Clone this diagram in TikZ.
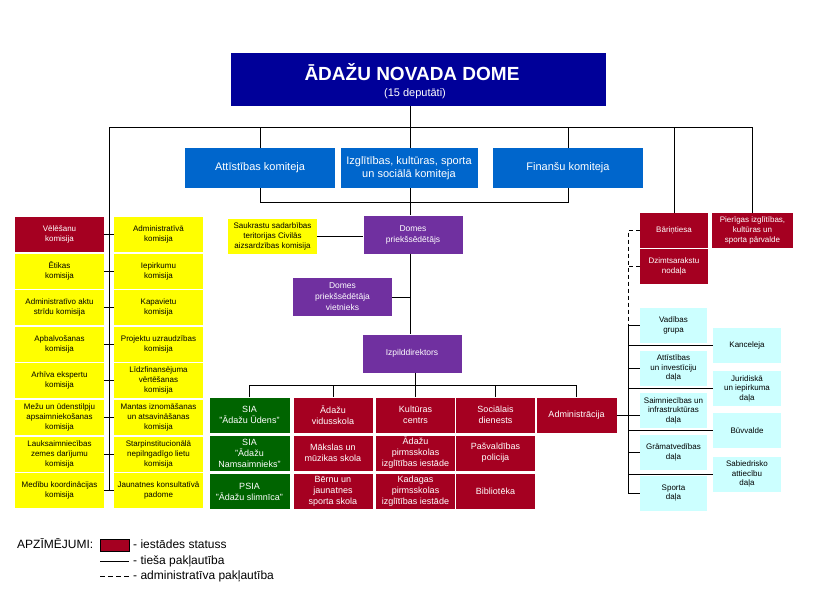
\documentclass[tikz,border=0pt]{standalone}
\usepackage{fontspec}
\setmainfont{Liberation Sans}
\usetikzlibrary{positioning}
\definecolor{domeblue}{RGB}{0,0,153}
\definecolor{komblue}{RGB}{0,102,204}
\definecolor{vadviolet}{RGB}{112,48,160}
\definecolor{iestred}{RGB}{165,0,33}
\definecolor{kapgreen}{RGB}{0,100,0}
\definecolor{komyellow}{RGB}{255,255,0}
\definecolor{dalcyan}{RGB}{204,255,255}

\begin{document}
\begin{tikzpicture}[x=1pt, y=-1pt,
  every node/.style={inner sep=0pt, align=center},
  domebox/.style={fill=domeblue, minimum width=375pt, minimum height=53pt},
  komitejabox/.style={fill=komblue, text=white, minimum height=40pt, font=\fontsize{11}{13}\selectfont},
  vadbox/.style={fill=vadviolet, text=white, minimum width=99pt, minimum height=38pt, font=\fontsize{8.5}{11}\selectfont},
  iestbox/.style={fill=iestred, text=white, minimum width=79pt, minimum height=35pt, font=\fontsize{9}{11}\selectfont},
  kapbox/.style={fill=kapgreen, text=white, minimum width=80pt, minimum height=35pt, font=\fontsize{9}{11}\selectfont},
  kombox/.style={fill=komyellow, minimum width=89pt, minimum height=35pt, font=\fontsize{8}{10}\selectfont},
  dalbox/.style={fill=dalcyan, minimum width=67pt, minimum height=35pt, font=\fontsize{8}{9.5}\selectfont},
  saite/.style={line width=0.9pt},
  legtext/.style={anchor=west, font=\fontsize{12}{14}\selectfont}]
\useasboundingbox (0,0) rectangle (814,595);

\node[domebox] (dome) at (418.5,79.5) {};
\node[text=white, font=\fontsize{19}{22}\selectfont\bfseries] (dometitle) at (412,72) {ĀDAŽU NOVADA DOME};
\node[text=white, font=\fontsize{11}{13}\selectfont] (domesub) at (415,94) {(15 deputāti)};

\node[komitejabox, minimum width=150pt] (atti) at (260,168) {Attīstības komiteja};
\node[komitejabox, minimum width=137pt] (izgl) at (409,168) {Izglītības, kultūras, sporta\\un sociālā komiteja};
\node[komitejabox, minimum width=150pt] (fin) at (568,168) {Finanšu komiteja};

\node[kombox] (sauk) at (272.5,236) {Saukrastu sadarbības\\teritorijas Civilās\\aizsardzības komisija};
\node[vadbox] (priek) at (413,234.5) {Domes\\priekšsēdētājs};
\node[vadbox] (viet) at (342.5,297) {Domes\\priekšsēdētāja\\vietnieks};
\node[vadbox] (izp) at (412,353.5) {Izpilddirektors};

\node[kombox, fill=iestred, text=white] (lk1) at (59.5,234) {Vēlēšanu\\komisija};
\node[kombox] (lk2) at (59.5,271) {Ētikas\\komisija};
\node[kombox] (lk3) at (59.5,307) {Administratīvo aktu\\strīdu komisija};
\node[kombox] (lk4) at (59.5,344) {Apbalvošanas\\komisija};
\node[kombox] (lk5) at (59.5,380) {Arhīva ekspertu\\komisija};
\node[kombox] (lk6) at (59.5,417) {Mežu un ūdenstilpju\\apsaimniekošanas\\komisija};
\node[kombox] (lk7) at (59.5,454) {Lauksaimniecības\\zemes darījumu\\komisija};
\node[kombox] (lk8) at (59.5,490) {Medību koordinācijas\\komisija};
\node[kombox] (rk1) at (158.5,234) {Administratīvā\\komisija};
\node[kombox] (rk2) at (158.5,271) {Iepirkumu\\komisija};
\node[kombox] (rk3) at (158.5,307) {Kapavietu\\komisija};
\node[kombox] (rk4) at (158.5,344) {Projektu uzraudzības\\komisija};
\node[kombox] (rk5) at (158.5,380) {Līdzfinansējuma\\vērtēšanas\\komisija};
\node[kombox] (rk6) at (158.5,417) {Mantas iznomāšanas\\un atsavināšanas\\komisija};
\node[kombox] (rk7) at (158.5,454) {Starpinstitucionālā\\nepilngadīgo lietu\\komisija};
\node[kombox] (rk8) at (158.5,490) {Jaunatnes konsultatīvā\\padome};

\node[kapbox] (udens) at (249.5,415) {SIA\\"Ādažu Ūdens"};
\node[kapbox] (nams) at (249.5,453) {SIA\\"Ādažu\\Namsaimnieks"};
\node[kapbox] (slim) at (249.5,491.5) {PSIA\\"Ādažu slimnīca"};
\node[iestbox] (vid) at (333,415) {Ādažu\\vidusskola};
\node[iestbox] (kult) at (415.5,415) {Kultūras\\centrs};
\node[iestbox] (soc) at (495.5,415) {Sociālais\\dienests};
\node[iestbox, minimum width=80pt] (adm) at (576.5,415) {Administrācija};
\node[iestbox] (maks) at (333,453) {Mākslas un\\mūzikas skola};
\node[iestbox] (apii) at (415.5,453) {Ādažu\\pirmsskolas\\izglītības iestāde};
\node[iestbox] (pol) at (495.5,453) {Pašvaldības\\policija};
\node[iestbox] (bjss) at (333,491.5) {Bērnu un\\jaunatnes\\sporta skola};
\node[iestbox] (kpii) at (415.5,491.5) {Kadagas\\pirmsskolas\\izglītības iestāde};
\node[iestbox] (bibl) at (495.5,491.5) {Bibliotēka};

\node[iestbox, minimum width=68pt, font=\fontsize{8}{10}\selectfont] (bar) at (674,230.5) {Bāriņtiesa};
\node[iestbox, minimum width=81pt, font=\fontsize{8}{10}\selectfont] (pier) at (752.5,230.5) {Pierīgas izglītības,\\kultūras un\\sporta pārvalde};
\node[iestbox, minimum width=68pt, font=\fontsize{8}{10}\selectfont] (dzim) at (674,266.5) {Dzimtsarakstu\\nodaļa};

\node[dalbox] (vad) at (673.5,325.5) {Vadības\\grupa};
\node[dalbox] (attd) at (673.5,368) {Attīstības\\un investīciju\\daļa};
\node[dalbox] (saim) at (673.5,410.5) {Saimniecības un\\infrastruktūras\\daļa};
\node[dalbox] (gram) at (673.5,452.5) {Grāmatvedības\\daļa};
\node[dalbox] (sport) at (673.5,493) {Sporta\\daļa};
\node[dalbox, minimum width=68pt] (kanc) at (747,345) {Kanceleja};
\node[dalbox, minimum width=68pt] (jur) at (747,388.5) {Juridiskā\\un iepirkuma\\daļa};
\node[dalbox, minimum width=68pt] (buv) at (747,430.5) {Būvvalde};
\node[dalbox, minimum width=68pt] (sab) at (747,474) {Sabiedrisko\\attiecību\\daļa};

\coordinate (cv) at (410,0);
\coordinate (hl) at (109,127);
\coordinate (bl) at (0,385);
\coordinate (ds) at (628,0);

\draw[saite] (hl) -- (hl -| pier.north) -- (pier.north);
\draw[saite] (hl) -- (hl |- lk8.east);
\draw[saite] (dome.south -| cv) -- (izgl.north -| cv);
\draw[saite] (atti.north |- hl) -- (atti.north);
\draw[saite] (fin.north |- hl) -- (fin.north);
\draw[saite] (bar.north |- hl) -- (bar.north);
\draw[saite] (atti.south) -- ++(0,14) -| (fin.south);
\draw[saite] (izgl.south -| cv) -- (priek.north -| cv);
\draw[saite] (sauk.east) -- (sauk.east -| priek.west);
\draw[saite] (priek.south -| cv) -- (izp.north -| cv);
\draw[saite] (viet.east) -- (viet.east -| cv);
\draw[saite] (izp.south -| kult.north) -- (kult.north);
\draw[saite] (udens.north) |- (bl -| adm.north) -- (adm.north);
\draw[saite] (vid.north |- bl) -- (vid.north);
\draw[saite] (soc.north |- bl) -- (soc.north);

\draw[saite] (lk1.east) -- (rk1.west);
\draw[saite] (lk2.east) -- (rk2.west);
\draw[saite] (lk3.east) -- (rk3.west);
\draw[saite] (lk4.east) -- (rk4.west);
\draw[saite] (lk5.east) -- (rk5.west);
\draw[saite] (lk6.east) -- (rk6.west);
\draw[saite] (lk7.east) -- (rk7.west);
\draw[saite] (lk8.east) -- (rk8.west);

\draw[saite, dash pattern=on 4pt off 3pt] (bar.west) -- (bar.west -| ds) -- (vad.west -| ds);
\draw[saite, dash pattern=on 4pt off 3pt] (dzim.west) -- (dzim.west -| ds);
\draw[saite] (vad.west -| ds) -- (sport.west -| ds);
\draw[saite] (adm.east) -- (adm.east -| saim.west);
\draw[saite] (vad.west) -- (vad.west -| ds);
\draw[saite] (attd.west) -- (attd.west -| ds);
\draw[saite] (gram.west) -- (gram.west -| ds);
\draw[saite] (sport.west) -- (sport.west -| ds);
\draw[saite] (kanc.west) -- (kanc.west -| ds);
\draw[saite] (jur.west) -- (jur.west -| ds);
\draw[saite] (buv.west) -- (buv.west -| ds);
\draw[saite] (sab.west) -- (sab.west -| ds);

\node[legtext] (apz) at (17,544) {APZĪMĒJUMI:};
\node[fill=iestred, draw=black, line width=1pt, minimum width=29pt, minimum height=12pt] (lgs) at (114.5,545) {};
\node[legtext] (lg1) at (133,544) {- iestādes statuss};
\coordinate (lga) at (100,561);
\coordinate (lgb) at (129,561);
\draw[line width=0.6pt] (lga) -- (lgb);
\node[legtext] (lg2) at (133,561) {- tieša pakļautība};
\coordinate (lgc) at (100,576);
\coordinate (lgd) at (129,576);
\draw[line width=0.6pt, dash pattern=on 5pt off 3pt] (lgc) -- (lgd);
\node[legtext] (lg3) at (133,576) {- administratīva pakļautība};
\end{tikzpicture}
\end{document}
